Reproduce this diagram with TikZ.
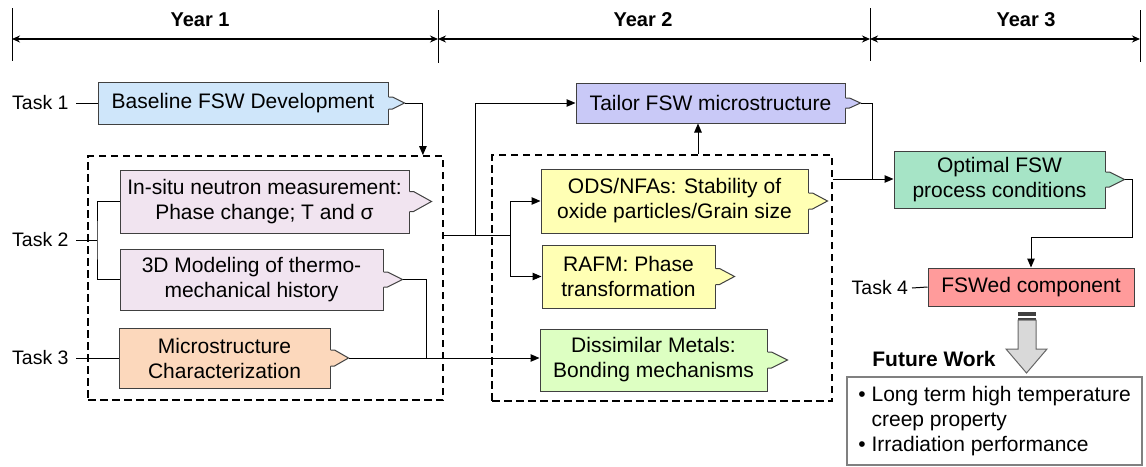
\documentclass[tikz,border=0pt]{standalone}
\usepackage{fontspec}
\setmainfont{Liberation Sans}
\usetikzlibrary{arrows.meta}
\definecolor{cBase}{HTML}{CFE6FA}
\definecolor{cPink}{HTML}{F1E4F0}
\definecolor{cPeach}{HTML}{FCD8BC}
\definecolor{cTail}{HTML}{C9C9F7}
\definecolor{cYel}{HTML}{FFFFB4}
\definecolor{cGreen}{HTML}{DDFFC2}
\definecolor{cMint}{HTML}{A6E4C6}
\definecolor{cRed}{HTML}{FF9B9B}
\definecolor{cEdge}{HTML}{404040}
\definecolor{cGray}{HTML}{D9D9D9}
\definecolor{cFrame}{HTML}{808080}
\newcommand{\bfs}{\fontsize{21}{25}\selectfont}
\newcommand{\ptrbox}[5]{%
  \fill[#4] ([xshift=-1.5pt,yshift=#2pt]#1.east) -- ([xshift=4pt,yshift=#2pt]#1.east) -- ([xshift=#3pt]#1.east) -- ([xshift=4pt,yshift=-#2pt]#1.east) -- ([xshift=-1.5pt,yshift=-#2pt]#1.east) -- cycle;
  \draw[edge] ([yshift=#2pt]#1.east) -- ([xshift=4pt,yshift=#2pt]#1.east) -- ([xshift=#3pt]#1.east) coordinate (#5) -- ([xshift=4pt,yshift=-#2pt]#1.east) -- ([yshift=-#2pt]#1.east);
}
\begin{document}
\begin{tikzpicture}[x=1pt,y=-1pt,
  edge/.style={draw=cEdge, line width=1pt},
  box/.style={edge, inner sep=0pt, align=center, font=\bfs},
  lbl/.style={inner sep=0pt, outer xsep=7.5pt, anchor=east, font=\fontsize{19.5}{23}\selectfont},
  dbox/.style={draw=black, line width=1.8pt, dash pattern=on 7.5pt off 4.5pt, inner sep=0pt},
  conn/.style={line width=1pt, black},
  arr/.style={conn, -{Triangle[length=9pt,width=7.5pt]}},
  yr/.style={font=\fontsize{20}{24}\selectfont\bfseries},
  tl/.style={line width=1.8pt, {Stealth[length=8pt,width=7pt]}-{Stealth[length=8pt,width=7pt]}},
  tick/.style={line width=1pt},
]
\useasboundingbox (0,0) rectangle (1146,466);
% timeline
\draw[tick] (12,8) -- (12,61) (438,10) -- (438,63) (870,8) -- (870,61) (1140,10) -- (1140,62);
\draw[tl] (12,39) -- (438,39);
\draw[tl] (438,39) -- (870,39);
\draw[tl] (870,39) -- (1140,39);
\node[yr] (y1) at (200,20) {Year 1};
\node[yr] (y2) at (643,20) {Year 2};
\node[yr] (y3) at (1026,20) {Year 3};
% dashed groups
\node[dbox, minimum width=355pt, minimum height=244pt] (d1) at (265.5,278) {};
\node[dbox, minimum width=340pt, minimum height=246pt] (d2) at (662,278) {};
% boxes
\node[box, fill=cBase, minimum width=290pt, minimum height=42pt] (base) at (243,103) {Baseline FSW Development};
\node[box, fill=cPink, minimum width=289pt, minimum height=63pt] (insitu) at (264.5,201.5) {In-situ neutron measurement:\\ Phase change; T and σ};
\node[box, fill=cPink, minimum width=263pt, minimum height=61pt] (model) at (251.5,279.5) {3D Modeling of thermo-\\mechanical history};
\node[box, fill=cPeach, minimum width=211pt, minimum height=60pt] (micro) at (224.5,358) {Microstructure\\Characterization};
\node[box, fill=cTail, minimum width=269pt, minimum height=40pt] (tailor) at (710.5,103) {Tailor FSW microstructure};
\node[box, fill=cYel, minimum width=267pt, minimum height=64pt] (ods) at (674.5,201) {ODS/NFAs: Stability of\\oxide particles/Grain size};
\node[box, fill=cYel, minimum width=173pt, minimum height=63pt] (rafm) at (628.5,276.5) {RAFM: Phase\\transformation};
\node[box, fill=cGreen, minimum width=227pt, minimum height=62pt] (dis) at (653.5,360) {Dissimilar Metals:\\Bonding mechanisms};
\node[box, fill=cMint, minimum width=211pt, minimum height=57pt] (opt) at (999.5,179.5) {Optimal FSW\\process conditions};
\node[box, fill=cRed, minimum width=206pt, minimum height=38pt] (fsw) at (1031,287) {FSWed component};
% pointers
\ptrbox{base}{6}{16}{cBase}{baseT}
\ptrbox{insitu}{10}{22}{cPink}{insituT}
\ptrbox{model}{7.5}{19}{cPink}{modelT}
\ptrbox{micro}{8}{18}{cPeach}{microT}
\ptrbox{tailor}{5}{15}{cTail}{tailorT}
\ptrbox{ods}{8}{19}{cYel}{odsT}
\ptrbox{rafm}{8}{19}{cYel}{rafmT}
\ptrbox{dis}{8}{20}{cGreen}{disT}
\ptrbox{opt}{7.5}{19}{cMint}{optT}
% task labels
\node[lbl] (t1) at (76,103) {Task 1};
\node[lbl] (t2) at (76,240) {Task 2};
\node[lbl] (t3) at (76,358) {Task 3};
\node[lbl, outer xsep=4pt] (t4) at (912,288) {Task 4};
% connectors
\draw[conn] (t1.east) -- (base.west);
\draw[arr] (baseT) -| ([xshift=-21pt]d1.north east);
\coordinate (j2) at (97,240);
\draw[conn] (t2.east) -- (j2);
\draw[conn] (insitu.west) -| (j2) |- (model.west);
\draw[conn] (t3.east) -- (micro.west);
\draw[arr] (microT) -- (microT -| dis.west);
\coordinate (j5) at (426,358);
\draw[conn] (modelT) -| (j5);
\coordinate (s1) at (443,235);
\coordinate (j3) at (475,235);
\coordinate (j4) at (510,235);
\draw[conn] (s1) -- (j4);
\draw[arr] (j3) |- (tailor.west);
\draw[arr] (j4) |- (ods.west);
\draw[arr] (j4) |- (rafm.west);
\coordinate (u) at ([xshift=36pt]d2.north);
\draw[arr] (u) -- (u |- tailor.south);
\coordinate (j6) at (872,179);
\draw[conn] (tailorT) -| (j6);
\draw[arr] (d2.east |- j6) -- (opt.west |- j6);
\coordinate (j7) at (1132,237);
\draw[arr] (optT) -| (j7) -| (fsw.north);
\draw[conn] (t4.east) -- (fsw.west);
% block arrow to future work
\fill[cEdge] (1018,312) rectangle (1036,315.5);
\fill[cEdge] (1018,317.5) rectangle (1036,319.5);
\filldraw[fill=cGray, draw=cEdge!80, line width=1pt] (1018,320) -- (1036,320) -- (1036,349) -- (1047,349) -- (1026.5,373) -- (1006,349) -- (1018,349) -- cycle;
\node[font=\bfs\bfseries] (fw) at (934,359) {Future Work};
\node[draw=cFrame, line width=1.5pt, fill=white, minimum width=295pt, minimum height=88pt, inner sep=0pt, font=\bfs] (future) at (994.5,421)
  {\begin{tabular}{@{}l@{\hspace{6pt}}l@{}}• & Long term high temperature\\ & creep property\\ • & Irradiation performance\end{tabular}};
\end{tikzpicture}
\end{document}
